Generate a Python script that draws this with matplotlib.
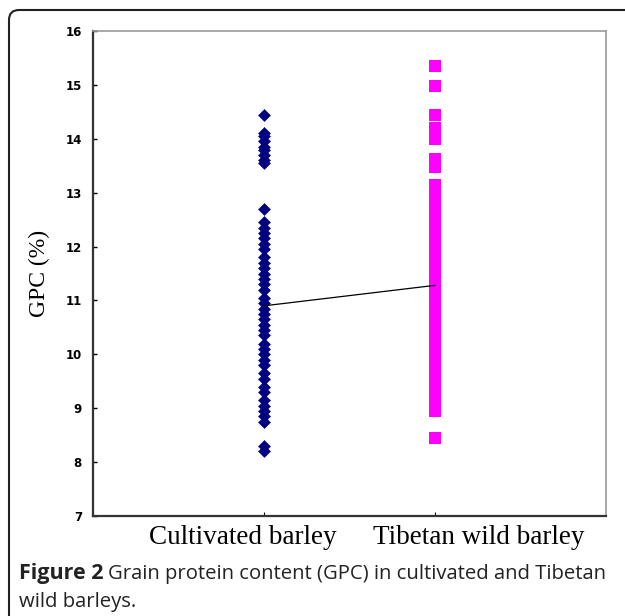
import matplotlib
matplotlib.use('Agg')
import matplotlib.pyplot as plt
from matplotlib.patches import FancyBboxPatch

# GPC values (%)
cultivated = [14.45, 14.1, 14.05, 13.95, 13.85, 13.8, 13.7, 13.6, 13.55,
              12.7, 12.45, 12.35, 12.25, 12.15, 12.05, 11.95, 11.8, 11.7,
              11.6, 11.5, 11.4, 11.3, 11.2, 11.05, 10.95, 10.85, 10.75,
              10.65, 10.55, 10.45, 10.35, 10.2, 10.1, 10.0, 9.9, 9.8, 9.65,
              9.55, 9.4, 9.3, 9.15, 9.05, 8.95, 8.85, 8.75, 8.3, 8.2]
tibetan = [15.35, 14.98, 14.45, 14.2, 14.1, 14.0, 13.62, 13.48,
           13.15, 13.05, 12.95, 12.85, 12.75, 12.6, 12.45, 12.35, 12.3,
           12.2, 12.1, 12.0, 11.9, 11.85, 11.75, 11.65, 11.55, 11.5, 11.4,
           11.3, 11.2, 11.1, 11.0, 10.95, 10.85, 10.75, 10.65, 10.6, 10.5,
           10.4, 10.3, 10.2, 10.1, 10.05, 9.95, 9.85, 9.7, 9.6, 9.5, 9.45,
           9.35, 9.25, 9.15, 9.05, 8.95, 8.45]
means = [10.9, 11.28]
groups = ['Cultivated barley', 'Tibetan wild barley']
yticks = [7, 8, 9, 10, 11, 12, 13, 14, 15, 16]

fig = plt.figure(figsize=(6.25, 6.16), dpi=100)
ax = fig.add_axes([93 / 625, 1 - 516 / 616, 513 / 625, 485 / 616])

ax.plot([1] * len(cultivated), cultivated, linestyle='none', marker='D',
        markersize=6, color='#000080', markeredgewidth=0.4)
ax.plot([2] * len(tibetan), tibetan, linestyle='none', marker='s',
        markersize=8, color='#ff00ff', markeredgewidth=0)
ax.plot([1, 2], means, color='black', linewidth=0.9)

ax.set_xlim(0, 3)
ax.set_ylim(7, 16)
ax.set_xticks([1, 2])
ax.set_xticklabels([])
# category labels sit off-centre from the ticks in the original
for xpos, name in zip([0.292, 0.752], groups):
    ax.text(xpos, -0.018, name, transform=ax.transAxes, ha='center',
            va='top', fontfamily='Liberation Serif', fontsize=19.5)
ax.set_yticks(yticks)
ax.set_yticklabels([str(t) for t in yticks], fontfamily='DejaVu Sans',
                   fontweight='bold', fontsize=8.5)
ax.tick_params(axis='y', direction='in', length=3, width=1, pad=8)
ax.tick_params(axis='x', direction='in', length=3, width=0.8)

ax.set_ylabel('GPC (%)', fontfamily='Liberation Serif', fontsize=17)
ax.yaxis.set_label_coords(-0.084, 0.5)

for side in ['left', 'bottom']:
    ax.spines[side].set_color('#333333')
    ax.spines[side].set_linewidth(1.6)
for side in ['top', 'right']:
    ax.spines[side].set_color('#999999')
    ax.spines[side].set_linewidth(1.2)

# rounded frame around figure + caption (cut off at right and bottom)
frame = FancyBboxPatch((9, -60), 720, 616 - 10 + 60,
                       boxstyle='round,pad=0,rounding_size=10',
                       transform=None, facecolor='none',
                       edgecolor='#222222', linewidth=1.5)
fig.patches.append(frame)

cap_font = 'Open Sans'
t1 = fig.text(19 / 625, 1 - 579 / 616, 'Figure 2', fontfamily=cap_font,
              fontweight='bold', fontsize=15.5, color='#222222')
fig.canvas.draw()
bb = t1.get_window_extent()
fig.text((bb.x1 + 5) / 625, 1 - 579 / 616,
         'Grain protein content (GPC) in cultivated and Tibetan',
         fontfamily=cap_font, fontsize=14.6, color='#222222')
fig.text(19 / 625, 1 - 607 / 616, 'wild barleys.', fontfamily=cap_font,
         fontsize=14.6, color='#222222')

fig.savefig('out.png', dpi=100)
